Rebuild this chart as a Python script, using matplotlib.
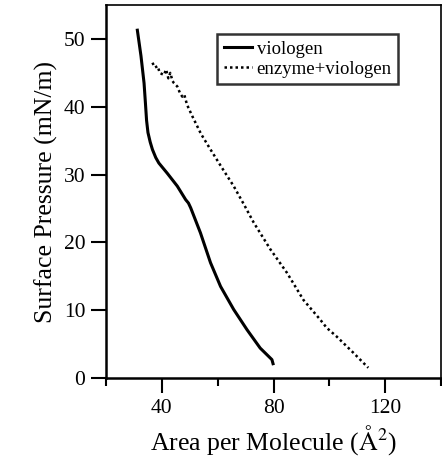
import numpy as np
import matplotlib
matplotlib.use('Agg')
import matplotlib.pyplot as plt

plt.rcParams['font.family'] = ['Liberation Serif', 'DejaVu Serif']
plt.rcParams['mathtext.fontset'] = 'stix'

# viologen isotherm (solid)
viologen_x = [31.2, 32.5, 33.6, 34.1, 34.5, 35.0, 35.8, 36.6, 37.8, 38.9, 41.9, 45.5, 48.5,
              49.5, 50.3, 53.8, 57.4, 61.0, 65.7, 70.5, 75.2, 79.4, 79.8]
viologen_y = [51.3, 47.5, 43.5, 40.5, 38.0, 36.2, 34.8, 33.7, 32.5, 31.7, 30.2, 28.3, 26.3,
              25.8, 25.1, 21.4, 17.0, 13.5, 10.1, 7.1, 4.4, 2.7, 2.1]

# enzyme + viologen isotherm (dotted)
enzyme_x = [36.6, 37.5, 38.5, 39.2, 40.7, 41.5, 42.3, 43.0, 43.8, 44.3, 45.5, 46.5, 47.3,
            48.0, 49.0, 50.9, 54.0, 57.4, 61.5, 65.7, 69.5, 72.9, 78.8, 84.8, 90.7, 96.7,
            99.0, 102.6, 108.6, 113.9]
enzyme_y = [46.5, 45.8, 46.0, 45.0, 44.7, 45.5, 44.2, 45.0, 43.8, 43.5, 43.0, 42.0, 41.5,
            41.8, 40.3, 38.6, 36.0, 33.7, 31.0, 28.3, 25.5, 22.9, 19.0, 15.5, 11.5, 8.6,
            7.4, 6.1, 3.7, 1.5]

fig = plt.figure(figsize=(4.42, 4.66), dpi=100)
ax = fig.add_axes([0.240, 0.189, 0.758, 0.800])

ax.plot(viologen_x, viologen_y, color='black', lw=2.2, label='viologen')
ax.plot(enzyme_x, enzyme_y, color='black', lw=1.8, linestyle=(0, (1, 1.2)),
        label='enzyme+viologen')

ax.set_xlim(20, 140)
ax.set_ylim(0, 55)
ax.set_xticks([40, 80, 120])
ax.set_xticks([20, 60, 100, 140], minor=True)
ax.set_yticks([0, 10, 20, 30, 40, 50])
ax.tick_params(axis='both', which='major', direction='out', length=11, width=1.5,
               labelsize=15.5, pad=4)
ax.tick_params(axis='x', which='minor', direction='out', length=6, width=1.5)

for side in ['left', 'bottom']:
    ax.spines[side].set_linewidth(1.8)
for side in ['top', 'right']:
    ax.spines[side].set_linewidth(1.2)

ax.set_xlabel(r'Area per Molecule ($\mathrm{\AA}^2$)', fontsize=18.5, labelpad=4)
ax.set_ylabel('Surface Pressure (mN/m)', fontsize=18.5, labelpad=4)

leg = ax.legend(loc='upper right', bbox_to_anchor=(0.872, 0.922), fontsize=13.5,
                frameon=True, fancybox=False, handlelength=1.5, borderpad=0.35,
                labelspacing=0.15, handletextpad=0.25, borderaxespad=0)
leg.get_frame().set_edgecolor('black')
leg.get_frame().set_linewidth(1.8)

fig.savefig('out.png', dpi=100)
